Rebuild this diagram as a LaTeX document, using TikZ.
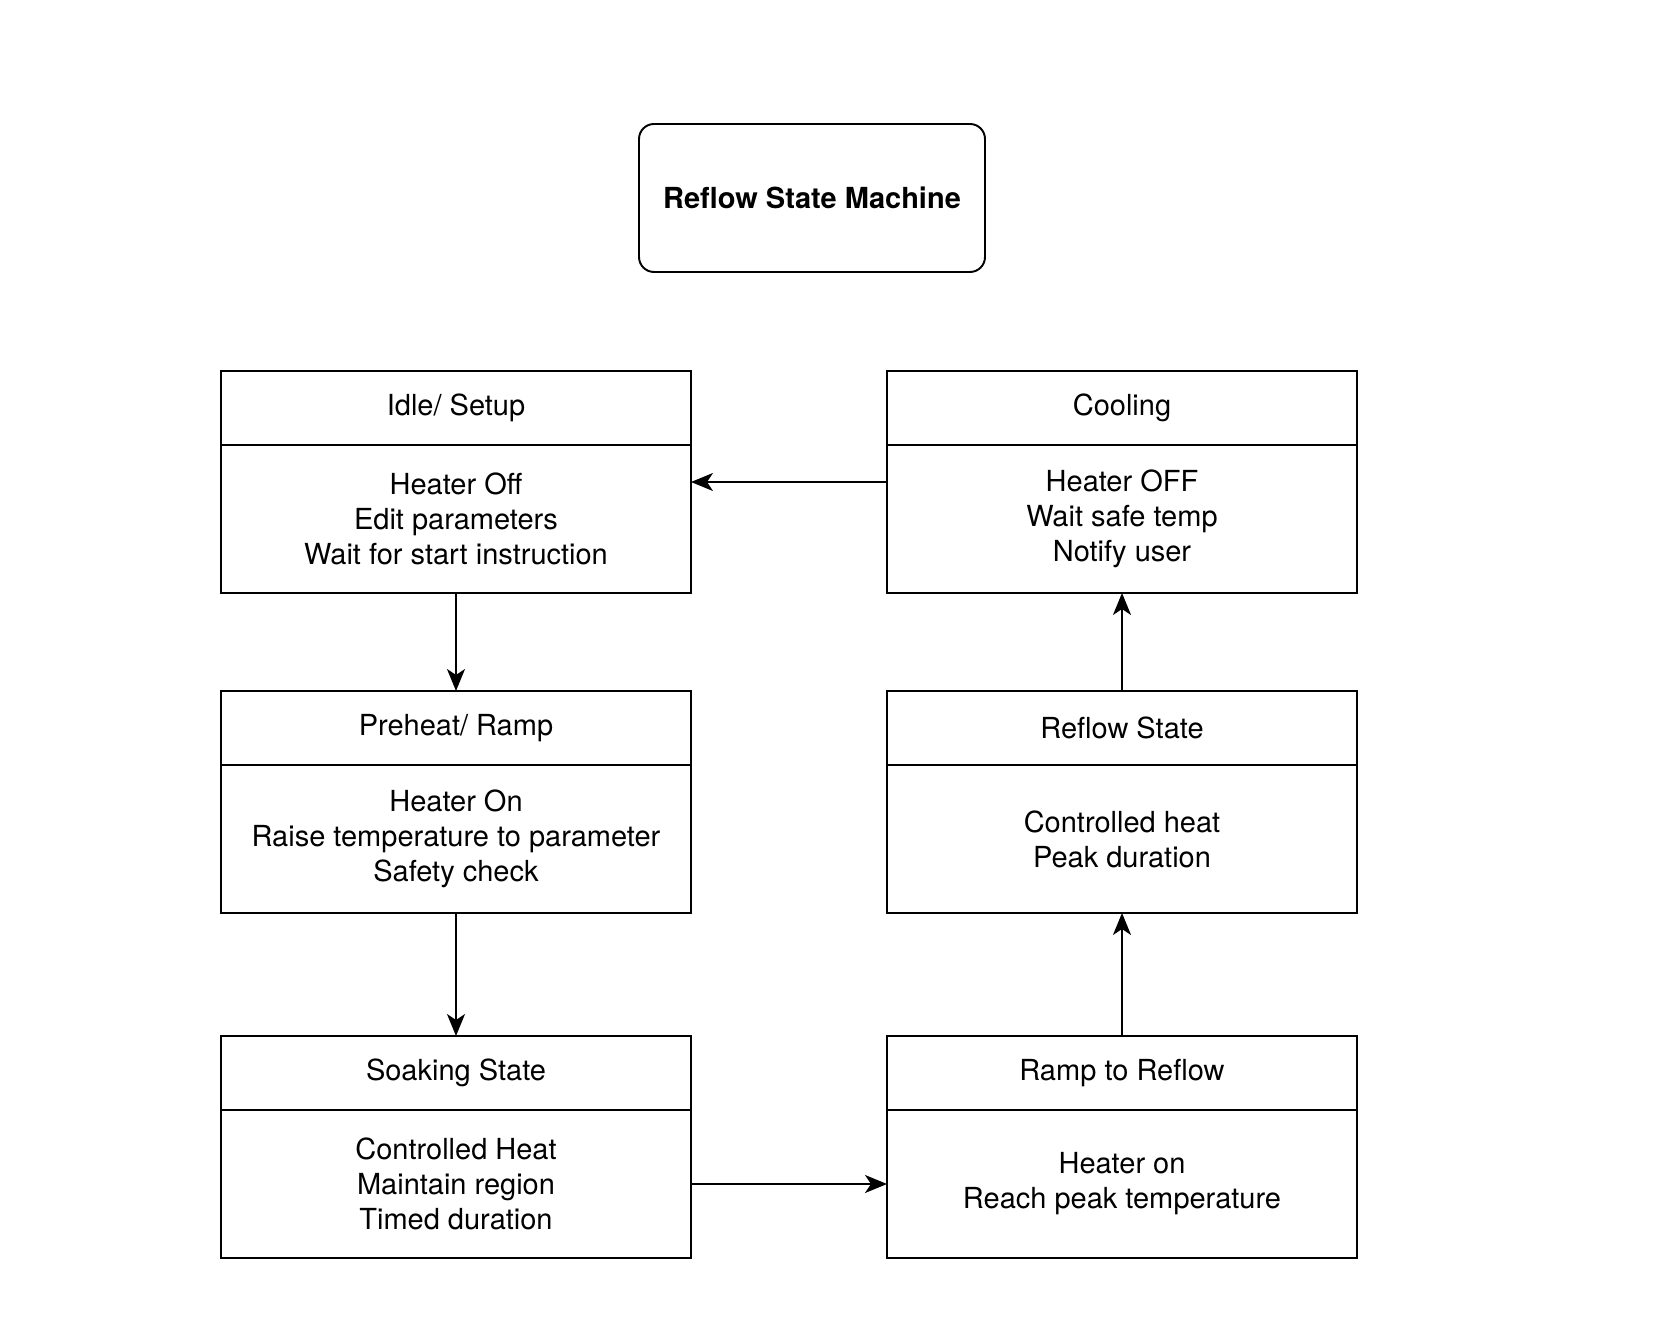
\documentclass[tikz,border=0pt]{standalone}
\usepackage{fontspec}
\setmainfont{TeX Gyre Heros}
\usetikzlibrary{positioning,arrows.meta}

\tikzset{
    head/.style={draw, line width=1.1pt, minimum width=9.4cm, minimum height=1.48cm,
        inner sep=0pt, outer sep=0pt, align=center, font=\fontsize{16.5}{20}\selectfont},
    body/.style={head, minimum height=2.96cm},
    title/.style={draw, line width=1.1pt, rounded corners=0.3cm, minimum width=6.92cm,
        minimum height=2.96cm, font=\fontsize{16.5}{20}\selectfont\bfseries},
    arr/.style={line width=1.1pt, -{Stealth[length=0.44cm,width=0.36cm,inset=0.12cm]}}
}

\begin{document}
\begin{tikzpicture}
    \useasboundingbox (0,0) rectangle (33.36,26.6);
    \node[title] (title) at (16.24,22.64) {Reflow State Machine};

    % left column
    \node[head] (idlehead) at (9.12,18.44) {Idle/ Setup};
    \node[body, below=0pt of idlehead] (idlebody) {Heater Off\\Edit parameters\\Wait for start instruction};
    \node[head] (preheathead) at (9.12,12.04) {Preheat/ Ramp};
    \node[body, below=0pt of preheathead] (preheatbody) {Heater On\\Raise temperature to parameter\\Safety check};
    \node[head] (soakhead) at (9.12,5.14) {Soaking State};
    \node[body, below=0pt of soakhead] (soakbody) {Controlled Heat\\Maintain region\\Timed duration};

    % right column
    \node[head] (coolhead) at (22.44,18.44) {Cooling};
    \node[body, below=0pt of coolhead] (coolbody) {Heater OFF\\Wait safe temp\\Notify user};
    \node[head] (reflowhead) at (22.44,12.04) {Reflow State};
    \node[body, below=0pt of reflowhead] (reflowbody) {Controlled heat\\Peak duration};
    \node[head] (ramphead) at (22.44,5.14) {Ramp to Reflow};
    \node[body, below=0pt of ramphead] (rampbody) {Heater on\\Reach peak temperature};

    % transitions
    \draw[arr] (idlebody.south) -- (preheathead.north);
    \draw[arr] (preheatbody.south) -- (soakhead.north);
    \draw[arr] (soakbody.east) -- (rampbody.west);
    \draw[arr] (ramphead.north) -- (reflowbody.south);
    \draw[arr] (reflowhead.north) -- (coolbody.south);
    \draw[arr] ([yshift=0.74cm]coolbody.west) -- ([yshift=0.74cm]idlebody.east);
\end{tikzpicture}
\end{document}
